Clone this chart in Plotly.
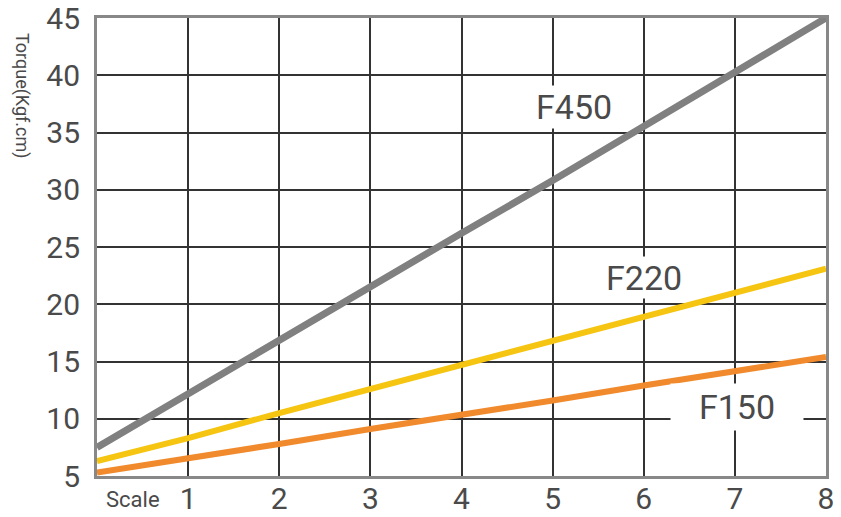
import plotly.graph_objects as go

scale = [0, 1, 2, 3, 4, 5, 6, 7, 8]
f450 = [7.5, 12.2, 16.8, 21.5, 26.2, 30.8, 35.5, 40.2, 45.0]
f220 = [6.3, 8.3, 10.5, 12.6, 14.7, 16.8, 18.9, 21.0, 23.1]
f150 = [5.3, 6.5, 7.8, 9.1, 10.3, 11.6, 12.9, 14.2, 15.4]
x_ticks = [1, 2, 3, 4, 5, 6, 7, 8]
y_ticks = [5, 10, 15, 20, 25, 30, 35, 40, 45]

fig = go.Figure()
fig.add_trace(go.Scatter(x=scale, y=f150, mode="lines", line=dict(color="#f08a2c", width=6), name="F150"))
fig.add_trace(go.Scatter(x=scale, y=f220, mode="lines", line=dict(color="#f5c512", width=6), name="F220"))
fig.add_trace(go.Scatter(x=scale, y=f450, mode="lines", line=dict(color="#808080", width=7), name="F450"))

FONT = "Roboto, DejaVu Sans"
lab_font = dict(family=FONT, size=34, color="#4a4a4a")
fig.add_annotation(x=5.23, y=37.2, text="F450", showarrow=False, font=lab_font, bgcolor="white",
                   height=40)
fig.add_annotation(x=6.0, y=22.3, text="F220", showarrow=False, font=lab_font, bgcolor="white",
                   height=39)
fig.add_annotation(x=7.02, y=11.0, text="F150", showarrow=False, font=lab_font, bgcolor="white",
                   width=130, height=44)
fig.add_annotation(xref="paper", yref="paper", x=0.049, y=-0.052, yanchor="middle", xanchor="center",
                   text="Scale", showarrow=False, font=dict(family=FONT, size=22, color="#4a4a4a"))
fig.add_annotation(xref="paper", yref="paper", x=-0.103, y=0.83, yanchor="middle", xanchor="center",
                   text="Torque(Kgf.cm)", textangle=90, showarrow=False,
                   font=dict(family=FONT, size=18, color="#4a4a4a"))

# page shows the figure with an 8px body offset; plot area in page: x 97..826, y 18..476
fig.update_layout(
    width=833, height=509,
    margin=dict(l=89, r=15, t=10, b=41, autoexpand=False),
    paper_bgcolor="white", plot_bgcolor="white",
    showlegend=False,
    xaxis=dict(range=[0, 8], tickvals=x_ticks, showgrid=True, gridcolor="#333333", gridwidth=2,
               showline=True, linecolor="#888888", linewidth=3, mirror=True, zeroline=False,
               tickfont=dict(family=FONT, size=30, color="#4a4a4a"),
               ticks="", ticklabelstandoff=-6, automargin=False, ticklabeloverflow="allow"),
    yaxis=dict(range=[5, 45], tickvals=y_ticks, showgrid=True, gridcolor="#333333", gridwidth=2,
               showline=True, linecolor="#888888", linewidth=3, mirror=True, zeroline=False,
               tickfont=dict(family=FONT, size=30, color="#4a4a4a"),
               ticks="", ticklabelstandoff=8, automargin=False, ticklabeloverflow="allow"),
)
fig.write_html("out.html")
